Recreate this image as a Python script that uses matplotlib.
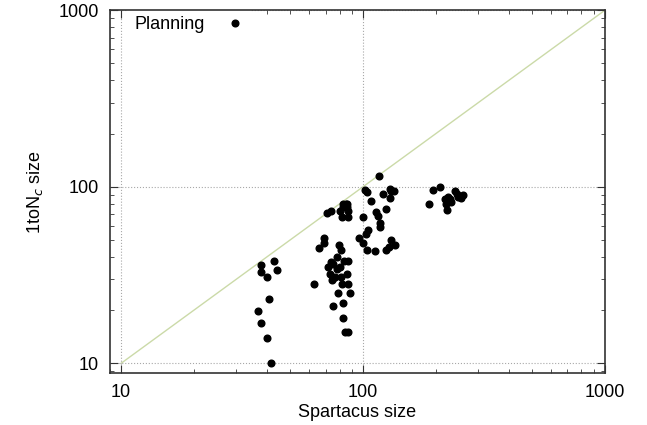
import matplotlib.pyplot as plt
import matplotlib.ticker as ticker
import numpy as np

plt.rcParams['font.family'] = ['Liberation Sans', 'DejaVu Sans']

# Spartacus size vs 1toN_c size (planning benchmarks)
spartacus = [
    # left group
    37.9, 42.8, 37.9, 40.0, 44.0, 40.8, 36.9, 37.9, 40.0, 41.5,
    # middle group
    70.8, 73.8, 82.9, 84.8, 85.9, 83.0, 86.0, 80.1, 86.6, 82.2, 86.6,
    68.9, 68.9, 66.0, 79.7, 81.2, 78.0, 73.8, 75.2, 83.6, 86.6,
    72.0, 78.0, 80.0, 73.0, 76.9, 80.8, 74.3, 75.5, 85.8, 82.0, 87.0,
    62.8, 79.0, 88.0, 82.5, 75.0, 82.5, 84.5, 87.0,
    # around 100
    117, 102, 104, 107.6, 121, 100, 113, 115, 124, 118, 118, 105, 103,
    96, 99.7, 104, 112, 125, 128, 135, 130, 129, 131, 134, 129,
    # right group
    195, 209, 187, 222, 218, 225, 229, 240, 244, 248, 254, 260, 232, 220,
]
onetonc = [
    36.1, 38.0, 32.9, 31.0, 34.0, 23.0, 19.9, 17.0, 14.0, 10.0,
    70.7, 72.5, 80.0, 80.0, 80.0, 77.0, 77.0, 73.0, 73.0, 67.0, 67.0,
    51.2, 48.0, 44.9, 46.8, 43.9, 39.8, 37.3, 36.5, 38.0, 38.0,
    35.0, 34.3, 35.0, 32.1, 31.0, 31.0, 29.5, 30.5, 32.1, 28.0, 28.0,
    28.0, 25.0, 25.0, 21.9, 21.0, 18.0, 15.0, 15.0,
    115, 96, 93, 83, 91.5, 67, 71.5, 68, 74.5, 62, 59, 57, 54,
    51, 48, 44, 43, 44, 45.6, 47, 50, 97.5, 95, 95, 86,
    95.8, 100, 79.8, 73.6, 85.2, 87.8, 85.2, 94.1, 91.0, 87.8, 86.4, 90.1, 82, 80,
]
diag = [10, 1000]

fig = plt.figure(figsize=(6.47, 4.25), dpi=100)
ax = fig.add_axes([0.170, 0.122, 0.765, 0.854])

ax.plot(diag, diag, color='#cbdaa8', lw=1.0, zorder=1)
ax.plot(spartacus, onetonc, 'o', color='black', ms=4.8, label='Planning', zorder=3)

ax.set_xscale('log')
ax.set_yscale('log')
ax.set_xlim(9.0, 1000)
ax.set_ylim(8.8, 1000)

for a in (ax.xaxis, ax.yaxis):
    a.set_major_locator(ticker.LogLocator(base=10))
    a.set_minor_locator(ticker.LogLocator(base=10, subs=np.arange(2, 10)))
    a.set_major_formatter(ticker.FuncFormatter(lambda v, p: '%d' % v))
    a.set_minor_formatter(ticker.NullFormatter())

ax.grid(which='major', color='#a8a8a8', ls=':', lw=0.8, zorder=0)
ax.tick_params(which='both', direction='in', top=True, right=True,
               labelsize=13, color='#333333')
ax.tick_params(which='major', length=6, pad=8)
ax.tick_params(which='minor', length=3)
for s in ax.spines.values():
    s.set_linewidth(1.2)
    s.set_color('#333333')
    s.set_zorder(6)

ax.set_xlabel('Spartacus size', fontsize=13, labelpad=2)
ax.set_ylabel('1toN$_c$ size', fontsize=13, labelpad=10)

leg = ax.legend(loc='upper left', bbox_to_anchor=(0.024, 1.019),
                markerfirst=False, fontsize=13,
                handlelength=1.0, handletextpad=1.15, borderaxespad=0.3,
                frameon=True, fancybox=False)
leg.get_frame().set_facecolor('white')
leg.get_frame().set_edgecolor('none')
leg.get_frame().set_alpha(1.0)
leg.set_zorder(4)

fig.savefig('out.png', dpi=100)
